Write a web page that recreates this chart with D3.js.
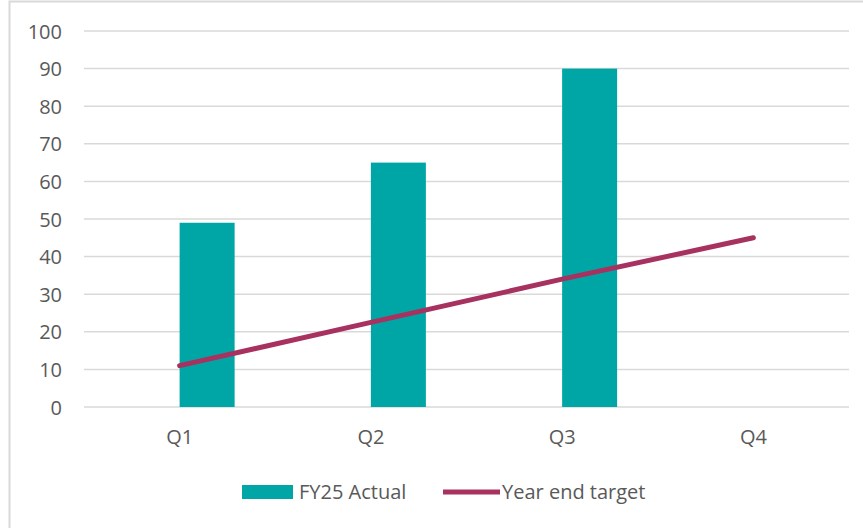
<!DOCTYPE html>
<html>
<head>
<meta charset="utf-8">
<script src="https://cdn.jsdelivr.net/npm/d3@7"></script>
<style>
  html, body { margin: 0; padding: 0; background: #ffffff; }
  svg { display: block; }
  text { font-family: "Open Sans", "Liberation Sans", sans-serif; fill: #595959; }
</style>
</head>
<body>
<svg id="chart" width="863" height="528"></svg>
<script>
// Quarterly figures
const quarters = ["Q1", "Q2", "Q3", "Q4"];
const actual = [49, 65, 90, null];
const target = [11, 22.5, 34, 45];
const yTicks = [0, 10, 20, 30, 40, 50, 60, 70, 80, 90, 100];
const seriesNames = ["FY25 Actual", "Year end target"];

const barColor = "#00A6A6";
const lineColor = "#A8325F";
const fontSize = "20px";

const svg = d3.select("#chart");
const W = 863, H = 528;
const plot = { left: 84, right: 849, top: 31, bottom: 407 };

// Chart frame (runs off the right and bottom edge)
svg.append("rect")
  .attr("x", 9.5).attr("y", 1.5)
  .attr("width", W + 20).attr("height", H + 20)
  .attr("fill", "#ffffff")
  .attr("stroke", "#d9d9d9").attr("stroke-width", 2);

const x = d3.scaleBand().domain(quarters).range([plot.left, plot.right]);
const y = d3.scaleLinear().domain([0, 100]).range([plot.bottom, plot.top]);

// Gridlines
svg.append("g")
  .selectAll("line").data(yTicks).join("line")
  .attr("x1", plot.left).attr("x2", plot.right)
  .attr("y1", d => y(d)).attr("y2", d => y(d))
  .attr("stroke", "#d9d9d9").attr("stroke-width", 1.5);

// Y axis labels
const yAxis = svg.append("g")
  .attr("transform", `translate(${plot.left - 22},0)`)
  .call(d3.axisLeft(y).tickValues(yTicks).tickSize(0).tickPadding(0));
yAxis.select(".domain").remove();
yAxis.selectAll("text")
  .style("font-size", fontSize).style("fill", "#595959")
  .attr("dy", "0.35em");

// X axis labels
const xAxis = svg.append("g")
  .attr("transform", `translate(0,${plot.bottom + 23})`)
  .call(d3.axisBottom(x).tickSize(0).tickPadding(0));
xAxis.select(".domain").remove();
xAxis.selectAll("text")
  .style("font-size", fontSize).style("fill", "#595959")
  .attr("dy", "0.7em");

// Bars sit in the right half of each category slot
const barW = 55;
svg.append("g")
  .selectAll("rect")
  .data(quarters.map((q, i) => ({ q, v: actual[i] })).filter(d => d.v != null))
  .join("rect")
  .attr("x", d => x(d.q) + x.bandwidth() / 2)
  .attr("y", d => y(d.v))
  .attr("width", barW)
  .attr("height", d => y(0) - y(d.v))
  .attr("fill", barColor);

// Target line
const line = d3.line()
  .x((d, i) => x(quarters[i]) + x.bandwidth() / 2)
  .y(d => y(d));
svg.append("path")
  .datum(target)
  .attr("d", line)
  .attr("fill", "none")
  .attr("stroke", lineColor)
  .attr("stroke-width", 5)
  .attr("stroke-linecap", "round");

// Legend
const lg = svg.append("g");
lg.append("rect")
  .attr("x", 242).attr("y", 485).attr("width", 51).attr("height", 14)
  .attr("fill", barColor);
lg.append("text")
  .attr("x", 299).attr("y", 499)
  .style("font-size", fontSize)
  .text(seriesNames[0]);
lg.append("line")
  .attr("x1", 443).attr("x2", 500).attr("y1", 492).attr("y2", 492)
  .attr("stroke", lineColor).attr("stroke-width", 5);
lg.append("text")
  .attr("x", 502).attr("y", 499)
  .style("font-size", fontSize)
  .text(seriesNames[1]);
</script>
</body>
</html>
